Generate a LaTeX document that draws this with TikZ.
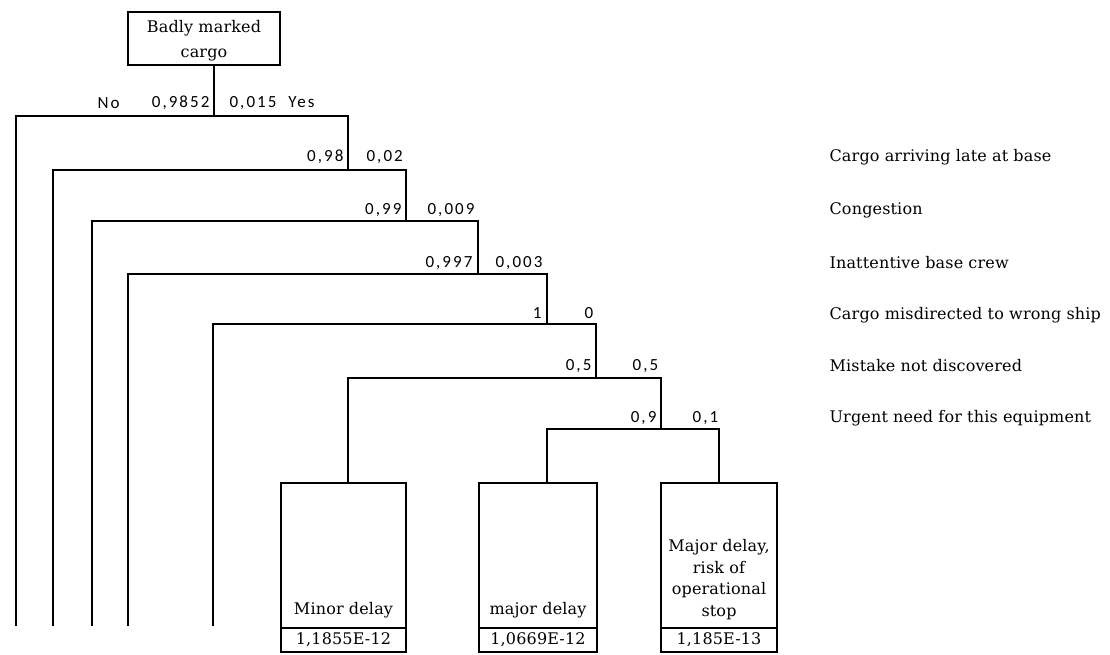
\documentclass[tikz,border=0pt]{standalone}
\usepackage{fontspec}
\setmainfont{DejaVu Serif}[LetterSpace=1]
\newfontfamily\numfont{Carlito}[LetterSpace=12]
\begin{document}
\begin{tikzpicture}[x=1pt,y=-1pt,
  line width=1.2pt,
  boxnode/.style={draw, line width=1.2pt, inner sep=0pt, align=center},
  prob/.style={font=\numfont\fontsize{17}{20}\selectfont, inner sep=0pt},
  probl/.style={prob, anchor=east},
  probr/.style={prob, anchor=west},
  event/.style={font=\fontsize{16}{19}\selectfont, anchor=west, inner sep=0pt},
  boxtext/.style={font=\fontsize{16}{21.5}\selectfont, align=center, inner sep=0pt},
  valtext/.style={font=\fontsize{16}{19}\selectfont},
  link/.style={line width=1.2pt}]
\useasboundingbox (0,0) rectangle (1110,654);

% root
\node[boxnode, minimum width=152pt, minimum height=53pt] (top) at (204,38.5) {};
\node[boxtext, font=\fontsize{16}{25}\selectfont] (toptext) at (204,41) {Badly marked\\cargo};

% branch points
\coordinate (n1) at (214,116);
\coordinate (n2) at (348,170);
\coordinate (n3) at (406,221);
\coordinate (n4) at (478,274);
\coordinate (n5) at (547,324);
\coordinate (n6) at (596,378);
\coordinate (n7) at (661,429);

% open ends
\coordinate (e1) at (16,626);
\coordinate (e2) at (53,626);
\coordinate (e3) at (92,626);
\coordinate (e4) at (128,626);
\coordinate (e5) at (213,626);

% leaf boxes
\node[boxnode, minimum width=125pt, minimum height=145pt] (box1) at (343.5,555.5) {};
\node[boxnode, valtext, minimum width=125pt, minimum height=24pt] (val1) at (343.5,640) {1,1855E-12};
\node[boxtext, anchor=base] (txt1) at (343.5,614) {Minor delay};

\node[boxnode, minimum width=118pt, minimum height=145pt] (box2) at (538,555.5) {};
\node[boxnode, valtext, minimum width=118pt, minimum height=24pt] (val2) at (538,640) {1,0669E-12};
\node[boxtext, anchor=base] (txt2) at (538,614) {major delay};

\node[boxnode, minimum width=116pt, minimum height=145pt] (box3) at (719,555.5) {};
\node[boxnode, valtext, minimum width=116pt, minimum height=24pt] (val3) at (719,640) {1,185E-13};
\node[boxtext, anchor=south] (txt3) at (719,620) {Major delay,\\risk of\\operational\\stop};

% connectors
\draw[link] (top.south -| n1) -- (n1);
\draw[link] (e1) |- (n2 |- n1) -- (n2);
\draw[link] (e2) |- (n3 |- n2) -- (n3);
\draw[link] (e3) |- (n4 |- n3) -- (n4);
\draw[link] (e4) |- (n5 |- n4) -- (n5);
\draw[link] (e5) |- (n6 |- n5) -- (n6);
\draw[link] ([xshift=4.5pt]box1.north) |- (n7 |- n6) -- (n7);
\draw[link] ([xshift=9pt]box2.north) |- (box3.north |- n7) -- (box3.north);

% probabilities
\node[prob, anchor=west] (no) at (97,103) {No};
\node[probl] (q1) at (210,103) {0,9852};
\node[probr] (p1) at (229,103) {0,015\ \ Yes};
\node[probl] (q2) at (344,157) {0,98};
\node[probr] (p2) at (366,157) {0,02};
\node[probl] (q3) at (402,210) {0,99};
\node[probr] (p3) at (427,210) {0,009};
\node[probl] (q4) at (473,263) {0,997};
\node[probr] (p4) at (495,263) {0,003};
\node[probl] (q5) at (542,313) {1};
\node[probr] (p5) at (584,313) {0};
\node[probl] (q6) at (592,366) {0,5};
\node[probr] (p6) at (632,366) {0,5};
\node[probl] (q7) at (657,418) {0,9};
\node[probr] (p7) at (692,418) {0,1};

% events
\node[event] (ev1) at (829,157) {Cargo arriving late at base};
\node[event] (ev2) at (829,210) {Congestion};
\node[event] (ev3) at (829,263) {Inattentive base crew};
\node[event] (ev4) at (829,315) {Cargo misdirected to wrong ship};
\node[event] (ev5) at (829,366) {Mistake not discovered};
\node[event] (ev6) at (829,418) {Urgent need for this equipment};
\end{tikzpicture}
\end{document}
